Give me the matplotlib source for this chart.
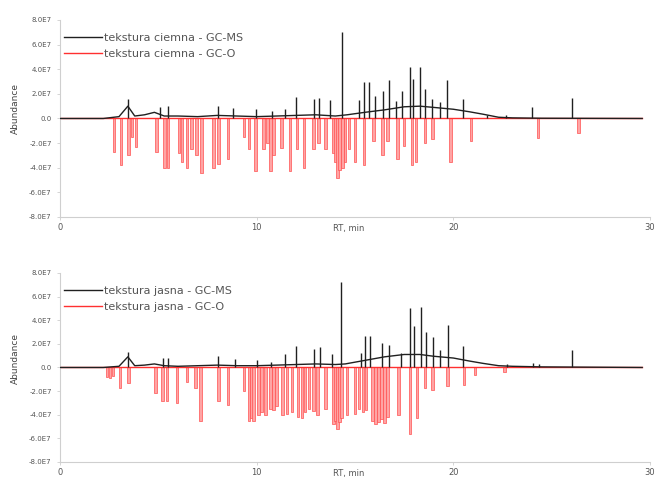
import numpy as np
import matplotlib
matplotlib.use("Agg")
import matplotlib.pyplot as plt
from matplotlib.ticker import FuncFormatter

# abundance values in units of 1E7, retention time in minutes

# --- tekstura ciemna ---
base_top_rt = [0, 2.2, 3.0, 3.45, 3.8, 4.3, 4.8, 5.3, 6.0, 7, 8, 9, 10, 11, 12,
               13, 14, 14.6, 15.5, 16.5, 17.5, 18.3, 19, 20, 20.8, 21.5, 22.3, 23, 24.5, 29.6]
base_top_v = [0, 0, 0.15, 1.0, 0.2, 0.3, 0.5, 0.2, 0.2, 0.15, 0.25, 0.2, 0.15, 0.2, 0.25,
              0.3, 0.2, 0.3, 0.5, 0.7, 0.95, 1.0, 0.9, 0.75, 0.55, 0.35, 0.1, 0.05, 0.02, 0]
ms_top_rt = [3.45, 5.1, 5.5, 8.05, 8.8, 9.95, 10.8, 11.45, 12.0, 12.9, 13.15, 13.75,
             14.35, 15.2, 15.45, 15.7, 16.0, 16.4, 16.75, 17.1, 17.4, 17.8, 17.95, 18.3,
             18.55, 18.9, 19.3, 19.7, 20.5, 21.7, 22.7, 24.0, 26.05]
ms_top_h = [1.6, 0.9, 1.0, 1.0, 0.85, 0.8, 0.6, 0.8, 1.75, 1.6, 1.7, 1.5,
            7.0, 1.5, 3.0, 3.0, 1.8, 2.2, 3.1, 1.4, 2.2, 4.2, 3.2, 4.2,
            2.4, 1.6, 1.3, 3.1, 1.6, 0.3, 0.3, 0.9, 1.65]
go_top_rt = [2.75, 3.1, 3.47, 3.65, 3.87, 4.9, 5.3, 5.5, 6.05, 6.2, 6.45, 6.7, 6.95,
             7.2, 7.8, 8.05, 8.55, 9.35, 9.6, 9.95, 10.35, 10.55, 10.7, 10.85, 11.25,
             11.7, 12.05, 12.4, 12.9, 13.15, 13.5, 13.9, 14.0, 14.1, 14.2, 14.35, 14.5,
             14.7, 15.0, 15.45, 15.95, 16.4, 16.65, 17.15, 17.5, 17.9, 18.1, 18.55,
             18.95, 19.85, 20.9, 24.3, 26.35]
go_top_h = [2.7, 3.8, 3.0, 1.5, 2.3, 2.7, 4.0, 4.0, 2.8, 3.5, 4.0, 2.5, 3.0,
            4.4, 4.0, 3.7, 3.3, 1.5, 2.5, 4.3, 2.5, 2.0, 4.3, 3.0, 2.4,
            4.3, 2.5, 4.0, 2.5, 2.0, 2.5, 2.8, 3.5, 4.8, 4.2, 4.0, 3.5,
            2.5, 3.5, 3.8, 1.8, 3.0, 1.8, 3.3, 2.2, 3.8, 3.5, 2.0,
            1.7, 3.5, 1.8, 1.6, 1.2]

# --- tekstura jasna ---
base_bot_rt = [0, 2.2, 3.0, 3.45, 3.8, 4.3, 4.8, 5.3, 6.0, 7, 8, 9, 10, 11, 12,
               13, 14, 14.5, 15.5, 16.5, 17.5, 18.3, 19, 20, 20.8, 21.5, 22.3, 23, 24.5, 29.6]
base_bot_v = [0, 0, 0.1, 0.9, 0.15, 0.2, 0.3, 0.15, 0.1, 0.15, 0.2, 0.15, 0.15, 0.2, 0.25,
              0.3, 0.25, 0.3, 0.6, 0.9, 1.1, 1.1, 0.95, 0.8, 0.55, 0.35, 0.15, 0.1, 0.05, 0]
ms_bot_rt = [3.45, 5.25, 5.5, 8.05, 8.9, 10.0, 10.75, 11.45, 12.0, 12.9, 13.2, 13.85,
             14.3, 15.3, 15.5, 15.75, 16.35, 16.75, 17.35, 17.8, 18.0, 18.35, 18.6,
             18.95, 19.3, 19.75, 20.5, 22.75, 24.05, 24.35, 26.05]
ms_bot_h = [1.3, 0.8, 0.8, 1.0, 0.7, 0.6, 0.5, 1.1, 1.8, 1.6, 1.7, 1.1,
            7.2, 1.2, 2.7, 2.7, 2.1, 1.9, 1.2, 5.0, 3.5, 5.1, 3.0,
            2.6, 1.5, 3.6, 1.8, 0.3, 0.4, 0.3, 1.5]
go_bot_rt = [2.4, 2.55, 2.7, 3.05, 3.47, 4.85, 5.2, 5.45, 5.95, 6.45, 6.9, 7.15, 8.05,
             8.55, 9.35, 9.6, 9.75, 9.85, 10.1, 10.25, 10.45, 10.7, 10.85, 11.0, 11.3,
             11.55, 11.8, 12.1, 12.3, 12.45, 12.65, 12.9, 13.1, 13.5, 13.9, 14.0, 14.1,
             14.2, 14.3, 14.6, 15.0, 15.2, 15.4, 15.55, 15.9, 16.05, 16.2, 16.35, 16.5,
             16.65, 17.2, 17.8, 18.15, 18.55, 18.95, 19.7, 20.55, 21.1, 22.6]
go_bot_h = [0.8, 0.9, 0.7, 1.7, 1.3, 2.2, 2.8, 2.8, 3.0, 1.2, 1.7, 4.5, 2.8,
            3.2, 2.0, 4.5, 4.3, 4.5, 4.0, 3.8, 4.0, 3.5, 3.6, 3.3, 4.0,
            3.9, 3.8, 4.2, 4.3, 3.8, 3.5, 3.7, 4.0, 3.5, 4.8, 4.5, 5.2,
            4.6, 4.3, 4.0, 3.9, 3.5, 3.8, 3.6, 4.5, 4.8, 4.6, 4.4, 4.7,
            4.2, 4.0, 5.6, 4.3, 1.7, 1.9, 1.6, 1.5, 0.6, 0.4]

y_ticks = [-8, -6, -4, -2, 0, 2, 4, 6, 8]
x_ticks = [0, 10, 20, 30]


def fmt(v, pos):
    return "0.0" if abs(v) < 1e-9 else f"{v:.1f}E7"


def draw_panel(ax, name, base_rt, base_v, ms_rt, ms_h, go_rt, go_h):
    ax.bar(go_rt, -np.array(go_h), width=0.13, color="#ffa4a4",
           edgecolor="#ff5050", linewidth=0.5, zorder=1)
    red, = ax.plot([0, 29.6], [0, 0], color="#ff3030", lw=1.0, zorder=2)
    ax.vlines(ms_rt, 0, ms_h, color="#202020", lw=1.0, zorder=3)
    black, = ax.plot(base_rt, base_v, color="#202020", lw=1.0, zorder=3)

    ax.set_xlim(0, 30)
    ax.set_ylim(-8, 8)
    ax.set_xticks(x_ticks)
    ax.set_yticks(y_ticks)
    ax.yaxis.set_major_formatter(FuncFormatter(fmt))
    for s in ["top", "right"]:
        ax.spines[s].set_visible(False)
    for s in ["left", "bottom"]:
        ax.spines[s].set_color("#cfcfcf")
        ax.spines[s].set_linewidth(0.8)
    ax.tick_params(colors="#cfcfcf", labelcolor="#555555", labelsize=5, length=2.5, width=0.6)
    ax.tick_params(axis="x", labelsize=6, pad=2)
    ax.set_ylabel("Abundance", fontsize=6.5, color="#444444")
    ax.yaxis.set_label_coords(-0.068, 0.55)
    ax.set_xlabel("RT, min", fontsize=6, color="#555555")
    ax.xaxis.set_label_coords(0.49, -0.035)
    ax.xaxis.label.set_va("top")

    ax.legend([black, red], [name + " - GC-MS", name + " - GC-O"],
              loc="upper left", bbox_to_anchor=(-0.01, 0.985), frameon=False,
              fontsize=8, handlelength=3.4, handletextpad=0.15,
              labelspacing=0.55, labelcolor="#555555")


fig = plt.figure(figsize=(6.6, 4.84), dpi=100)
ax1 = fig.add_axes([0.0909, 0.5517, 0.894, 0.407])
ax2 = fig.add_axes([0.0909, 0.0455, 0.894, 0.3905])

draw_panel(ax1, "tekstura ciemna", base_top_rt, base_top_v, ms_top_rt, ms_top_h, go_top_rt, go_top_h)
draw_panel(ax2, "tekstura jasna", base_bot_rt, base_bot_v, ms_bot_rt, ms_bot_h, go_bot_rt, go_bot_h)

fig.savefig("out.png", dpi=100)
